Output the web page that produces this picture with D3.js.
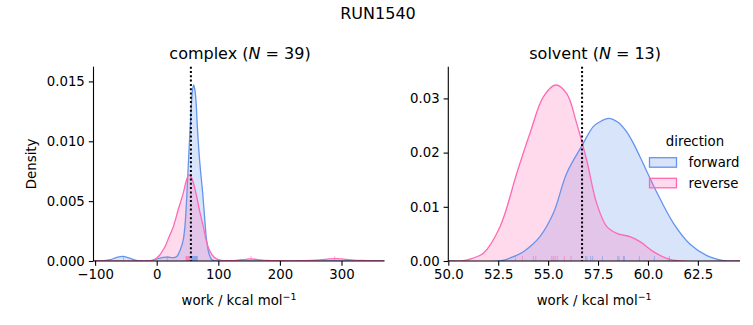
<!DOCTYPE html>
<html><head><meta charset="utf-8">
<script src="https://cdn.jsdelivr.net/npm/d3@7"></script>
<style>body{margin:0;background:#fff}svg{display:block}text{font-family:"DejaVu Sans",sans-serif;fill:#000}</style>
</head><body>
<script>
// ---------- data ----------
const suptitle = "RUN1540";
const directions = ["forward", "reverse"];
const colors = {forward: "#6495ED", reverse: "#FF69B4"};

// complex panel KDE curves [work, density]
const complexForward = [[-102,0],[-85,0.00003],[-75,0.00012],[-65,0.0003],[-55,0.00038],[-45,0.00026],[-35,0.00008],[-25,0.00001],[-15,0.00001],[-5,0.00008],[5,0.00025],[15,0.00033],[22,0.0003],[28,0.00028],[33,0.0004],[38,0.0009],[43,0.00175],[46,0.003],[49,0.0056],[52,0.0088],[55,0.0118],[58,0.0142],[60,0.0147],[62,0.0143],[64,0.0132],[66,0.0112],[70,0.0082],[74.7,0.00565],[78,0.0035],[81,0.00175],[85,0.0006],[89,0.00015],[94,0.00002],[100,0],[370,0]];
const complexReverse = [[-102,0],[-20,0],[-10,0.00003],[-5,0.0001],[0,0.00025],[5,0.0005],[10,0.0009],[13.5,0.0012],[20,0.002],[27,0.00287],[35,0.0043],[43,0.00565],[48,0.0067],[52.4,0.0072],[57,0.0069],[63.8,0.00565],[70,0.0041],[75.7,0.00287],[80,0.0018],[84,0.0011],[90,0.0005],[97,0.00018],[105,0.00006],[115,0.00003],[130,0.00006],[145,0.00014],[153,0.00017],[162,0.00013],[180,0.00004],[200,0.00002],[240,0.00003],[265,0.0001],[280,0.00017],[290,0.0002],[300,0.00017],[315,0.0001],[335,0.00004],[355,0.00001],[370,0]];
// solvent panel KDE curves
const solventForward = [[50,0],[52.6,0],[53.2,0.0007],[53.76,0.00172],[54.2,0.003],[54.59,0.00448],[55.26,0.0088],[55.93,0.0162],[56.68,0.0212],[57.26,0.0248],[57.6,0.0257],[58.02,0.02633],[58.5,0.0256],[58.9,0.0240],[59.2,0.0222],[59.6,0.01924],[60.44,0.0127],[61.27,0.0070],[62.11,0.0031],[62.95,0.0010],[63.5,0.0003],[63.9,0],[64.6,0]];
const solventReverse = [[50,0],[50.67,0],[51.2,0.0005],[51.75,0.00142],[52.59,0.00633],[53.43,0.0162],[54.09,0.02356],[54.76,0.0303],[55.38,0.03247],[55.93,0.0309],[56.43,0.0254],[56.93,0.01863],[57.43,0.01065],[57.94,0.00633],[58.44,0.0051],[59.1,0.00448],[59.6,0.00357],[60.27,0.00172],[60.94,0.0005],[61.6,0],[64.6,0]];

// rug samples
const complexForwardRug = [-54, 17, 56, 57, 58, 59, 60, 61, 62, 63, 64, 65, 66];
const complexReverseRug = [47.5, 48.5, 49.5, 50.5, 51.5, 52.5, 53.5, 54, 153, 289];
const solventForwardRug = [56.88, 56.95, 57.13, 57.23, 57.72, 58.49, 58.55, 58.77, 58.82, 59.57, 60.32, 61.07];
const solventReverseRug = [53.36, 53.71, 54.26, 54.38, 55.18, 55.26, 55.35, 55.46, 55.81, 56.15];

// vertical reference (dotted) lines
const complexMarker = 55.5;
const solventMarker = 56.7;

const complexXTicks = [-100, 0, 100, 200, 300];
const complexYTicks = [0, 0.005, 0.010, 0.015];
const solventXTicks = [50.0, 52.5, 55.0, 57.5, 60.0, 62.5];
const solventYTicks = [0, 0.01, 0.02, 0.03];

// ---------- drawing ----------
const W = 753, H = 325;
const svg = d3.select("body").append("svg").attr("width", W).attr("height", H);

svg.append("text").attr("x", 378).attr("y", 19).attr("text-anchor", "middle")
  .style("font-size", "16px").text(suptitle);

const plotTop = 66.7, plotBottom = 261;
const panels = [
  {name: "complex", n: 39, left: 93.5, right: 384.5, xdom: [-102.6, 369.8], ydom: [0, 0.01623],
   curves: {forward: complexForward, reverse: complexReverse},
   rugs: {forward: complexForwardRug, reverse: complexReverseRug},
   marker: complexMarker, xt: complexXTicks, yt: complexYTicks,
   xfmt: d => (d < 0 ? "\u2212" + Math.abs(d) : d), yfmt: d3.format(".3f"), ylabel: "Density"},
  {name: "solvent", n: 13, left: 448.3, right: 740, xdom: [50.0, 64.61], ydom: [0, 0.03585],
   curves: {forward: solventForward, reverse: solventReverse},
   rugs: {forward: solventForwardRug, reverse: solventReverseRug},
   marker: solventMarker, xt: solventXTicks, yt: solventYTicks,
   xfmt: d3.format(".1f"), yfmt: d3.format(".2f"), ylabel: null}
];

panels.forEach((p, i) => {
  const x = d3.scaleLinear().domain(p.xdom).range([p.left, p.right]);
  const y = d3.scaleLinear().domain(p.ydom).range([plotBottom, plotTop]);
  const g = svg.append("g");
  const clipId = "clip" + i;
  svg.append("clipPath").attr("id", clipId).append("rect")
    .attr("x", p.left).attr("y", plotTop - 2).attr("width", p.right - p.left).attr("height", plotBottom - plotTop + 2);
  const plot = g.append("g").attr("clip-path", `url(#${clipId})`);

  const curve = d3.curveCatmullRom.alpha(0.5);
  const area = d3.area().x(d => x(d[0])).y0(y(0)).y1(d => y(Math.max(0, d[1]))).curve(curve);
  const line = d3.line().x(d => x(d[0])).y(d => y(d[1])).curve(curve);

  directions.forEach(dir => {
    plot.append("path").datum(p.curves[dir]).attr("d", area)
      .attr("fill", colors[dir]).attr("fill-opacity", 0.25).attr("stroke", "none");
  });
  directions.forEach(dir => {
    plot.append("path").datum(p.curves[dir]).attr("d", line)
      .attr("fill", "none").attr("stroke", colors[dir]).attr("stroke-width", 1.3);
  });
  directions.forEach(dir => {
    plot.selectAll(null).data(p.rugs[dir]).enter().append("line")
      .attr("x1", d => x(d)).attr("x2", d => x(d))
      .attr("y1", plotBottom).attr("y2", plotBottom - 5)
      .attr("stroke", colors[dir]).attr("stroke-opacity", 0.55).attr("stroke-width", 1);
  });

  plot.append("line").attr("x1", x(p.marker)).attr("x2", x(p.marker))
    .attr("y1", plotTop).attr("y2", plotBottom)
    .attr("stroke", "#000").attr("stroke-width", 2).attr("stroke-dasharray", "2,2.3");

  // axes
  const xa = g.append("g").attr("transform", `translate(0,${plotBottom})`)
    .call(d3.axisBottom(x).tickValues(p.xt).tickFormat(p.xfmt).tickSize(4.7).tickPadding(4));
  const ya = g.append("g").attr("transform", `translate(${p.left},0)`)
    .call(d3.axisLeft(y).tickValues(p.yt).tickFormat(p.yfmt).tickSize(4.7).tickPadding(4));
  [xa, ya].forEach(a => {
    a.select(".domain").attr("stroke", "#000").attr("stroke-width", 1.1);
    a.selectAll(".tick line").attr("stroke", "#000").attr("stroke-width", 1.1);
    a.selectAll(".tick text").style("font-size", "13.3px").style("font-family", '"DejaVu Sans"').attr("fill", "#000");
  });
  xa.select(".domain").attr("d", `M${p.left},0H${p.right}`);
  ya.select(".domain").attr("d", `M0,${plotTop}V${plotBottom}`);

  // x label
  const xl = g.append("text").attr("x", (p.left + p.right) / 2).attr("y", 305)
    .attr("text-anchor", "middle").style("font-size", "13.3px");
  xl.append("tspan").text("work / kcal mol");
  xl.append("tspan").attr("dy", -5).style("font-size", "9.5px").text("\u22121");

  // title
  const t = g.append("text").attr("x", (p.left + p.right) / 2 + 1).attr("y", 59)
    .attr("text-anchor", "middle").style("font-size", "16px");
  t.append("tspan").text(p.name + " (");
  t.append("tspan").style("font-style", "italic").text("N");
  t.append("tspan").text(" = " + p.n + ")");

  if (p.ylabel) {
    g.append("text").attr("transform", `translate(36,${(plotTop + plotBottom) / 2}) rotate(-90)`)
      .attr("text-anchor", "middle").style("font-size", "13.3px").text(p.ylabel);
  }
});

// legend
const lg = svg.append("g");
lg.append("text").attr("x", 695).attr("y", 146).attr("text-anchor", "middle")
  .style("font-size", "13.3px").text("direction");
directions.forEach((dir, k) => {
  const yy = 157.7 + k * 20.6;
  lg.append("rect").attr("x", 649.5).attr("y", yy).attr("width", 27).attr("height", 9.5)
    .attr("fill", colors[dir]).attr("fill-opacity", 0.25)
    .attr("stroke", colors[dir]).attr("stroke-width", 1.3);
  lg.append("text").attr("x", 688.5).attr("y", yy + 9.5).style("font-size", "13.3px").text(dir);
});
</script>
</body></html>
